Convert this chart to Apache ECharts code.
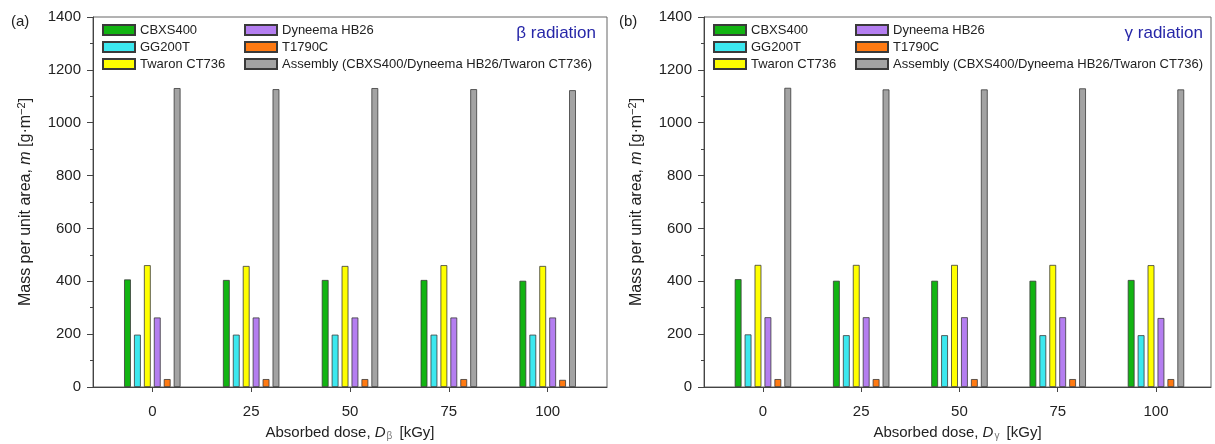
<!DOCTYPE html>
<html>
<head>
<meta charset="utf-8">
<script src="https://cdn.jsdelivr.net/npm/echarts@6/dist/echarts.min.js"></script>
<style>
html,body{margin:0;padding:0;background:#fff;}
#c{width:1215px;height:444px;}
</style>
</head>
<body>
<div id="c"></div>
<script>
const doses = [0, 25, 50, 75, 100];
const xTickLabels = [0, 25, 50, 75, 100];
const seriesNames = ['CBXS400', 'GG200T', 'Twaron CT736', 'Dyneema HB26', 'T1790C', 'Assembly (CBXS400/Dyneema HB26/Twaron CT736)'];

// beta radiation panel (a)
const cbxsB = [407, 405, 405, 405, 402];
const gg200tB = [198, 198, 198, 198, 198];
const twaronB = [461, 458, 458, 461, 458];
const dyneemaB = [263, 263, 263, 263, 263];
const t1790cB = [30, 30, 30, 30, 27];
const assemblyB = [1131, 1127, 1131, 1127, 1123];

// gamma radiation panel (b)
const cbxsG = [408, 402, 402, 402, 405];
const gg200tG = [199, 196, 196, 196, 196];
const twaronG = [462, 462, 462, 462, 461];
const dyneemaG = [264, 264, 264, 264, 261];
const t1790cG = [30, 30, 30, 30, 30];
const assemblyG = [1132, 1126, 1126, 1130, 1126];

const colors = ['#12b412', '#3ce8ef', '#ffff00', '#b47ef0', '#ff7a12', '#a3a3a3'];
const FONT = 'Liberation Sans, Arial, sans-serif';

const betaData = [cbxsB, gg200tB, twaronB, dyneemaB, t1790cB, assemblyB];
const gammaData = [cbxsG, gg200tG, twaronG, dyneemaG, t1790cG, assemblyG];

function makeSeries(dataSets, idx) {
  return dataSets.map((vals, i) => ({
    type: 'bar',
    name: seriesNames[i],
    xAxisIndex: idx,
    yAxisIndex: idx,
    barWidth: 6.8,
    barGap: '46%',
    itemStyle: { color: colors[i], borderColor: '#3a3a3a', borderWidth: 0.8 },
    emphasis: { disabled: true },
    data: doses.map((d, j) => [d, vals[j]])
  }));
}

function xAxis(idx, max, sub) {
  return {
    type: 'value', gridIndex: idx, min: -15, max: max,
    axisLine: { show: true, onZero: false, lineStyle: { color: '#444', width: 1 } },
    axisTick: { show: true, customValues: xTickLabels, length: 5, inside: false, lineStyle: { color: '#444' } },
    axisLabel: { customValues: xTickLabels, color: '#222', fontSize: 15, fontFamily: FONT, margin: 17 },
    splitLine: { show: false },
    name: '{n|Absorbed dose, }{i|D}{s|' + sub + '}{n| [kGy]}',
    nameLocation: 'middle', nameGap: 38,
    nameTextStyle: {
      color: '#222', fontFamily: FONT, fontSize: 15,
      rich: {
        n: { fontSize: 15, fontFamily: FONT, color: '#222' },
        i: { fontSize: 15, fontFamily: FONT, fontStyle: 'italic', color: '#222' },
        s: { fontSize: 10, fontFamily: FONT, color: '#777', padding: [6, 3, 0, 1] }
      }
    }
  };
}

function yAxis(idx) {
  return {
    type: 'value', gridIndex: idx, min: 0, max: 1400, interval: 200,
    axisLine: { show: true, onZero: false, lineStyle: { color: '#444', width: 1 } },
    axisTick: { show: true, length: 6, lineStyle: { color: '#444' } },
    minorTick: { show: true, splitNumber: 2, length: 3, lineStyle: { color: '#444' } },
    axisLabel: { color: '#222', fontSize: 15, fontFamily: FONT, margin: 12, formatter: v => String(v) },
    splitLine: { show: false },
    name: '{n|Mass per unit area, }{i|m}{n| [g·m}{sup|−2}{n|]}',
    nameLocation: 'middle', nameGap: 57, nameRotate: 90,
    nameTextStyle: {
      color: '#222', fontFamily: FONT, fontSize: 16,
      rich: {
        n: { fontSize: 16, fontFamily: FONT, color: '#222' },
        i: { fontSize: 16, fontFamily: FONT, fontStyle: 'italic', color: '#222' },
        sup: { fontSize: 11, fontFamily: FONT, color: '#222', padding: [0, 0, 9, 0] }
      }
    }
  };
}

function legends(l1, l2) {
  const base = {
    orient: 'vertical', top: 23, itemWidth: 32, itemHeight: 10, itemGap: 3,
    icon: 'rect', selectedMode: false, padding: 0,
    textStyle: { color: '#222', fontSize: 13, fontFamily: FONT, lineHeight: 14 }
  };
  return [
    Object.assign({}, base, { left: l1, data: seriesNames.slice(0, 3) }),
    Object.assign({}, base, { left: l2, data: seriesNames.slice(3, 6) })
  ];
}

const chart = echarts.init(document.getElementById('c'), null, { renderer: 'canvas' });
chart.setOption({
  animation: false,
  backgroundColor: '#fff',
  title: [
    { text: '(a)', left: 6, top: 9, textStyle: { fontSize: 15, fontWeight: 'normal', color: '#222', fontFamily: FONT } },
    { text: '(b)', left: 614, top: 9, textStyle: { fontSize: 15, fontWeight: 'normal', color: '#222', fontFamily: FONT } },
    { text: 'β radiation', right: 614, top: 20, textStyle: { fontSize: 17, fontWeight: 'normal', color: '#2626a8', fontFamily: FONT } },
    { text: 'γ radiation', right: 7, top: 20, textStyle: { fontSize: 17, fontWeight: 'normal', color: '#2626a8', fontFamily: FONT } }
  ],
  legend: legends(102, 244).concat(legends(713, 855)),
  grid: [
    { left: 93, top: 17, right: 608, bottom: 57, outerBoundsMode: 'none', containLabel: false, show: true, borderColor: '#666', borderWidth: 1, backgroundColor: 'transparent' },
    { left: 704, top: 17, right: 4, bottom: 57, outerBoundsMode: 'none', containLabel: false, show: true, borderColor: '#666', borderWidth: 1, backgroundColor: 'transparent' }
  ],
  xAxis: [xAxis(0, 115, 'β'), xAxis(1, 114, 'γ')],
  yAxis: [yAxis(0), yAxis(1)],
  series: makeSeries(betaData, 0).concat(makeSeries(gammaData, 1))
});
</script>
</body>
</html>
